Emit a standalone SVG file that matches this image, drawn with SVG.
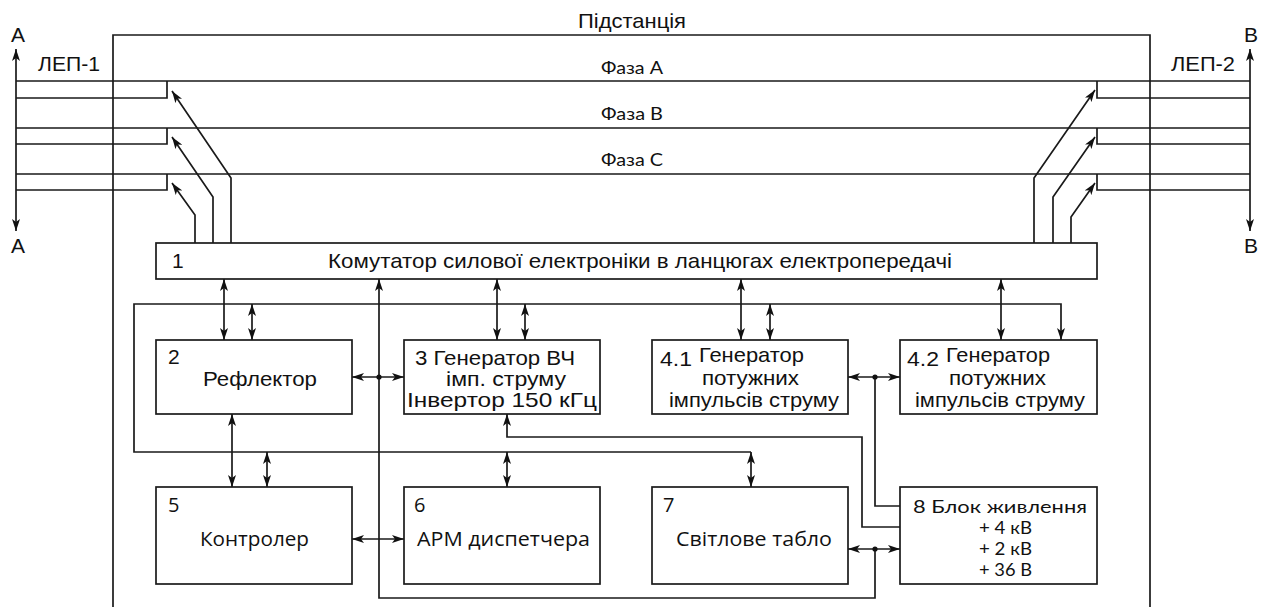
<svg xmlns="http://www.w3.org/2000/svg" width="1268" height="607" viewBox="0 0 1268 607">
  <defs>
    <marker id="arrow" viewBox="0 0 12 8" refX="12" refY="4" markerWidth="12" markerHeight="8" markerUnits="userSpaceOnUse" orient="auto-start-reverse">
      <path d="M0,0 L12,4 L0,8 L3,4 Z" fill="#111"/>
    </marker>
  </defs>
  <style>
    .ln { fill: none; stroke: #1a1a1a; stroke-width: 1.7; }
    .box { fill: #fff; stroke: #1a1a1a; stroke-width: 1.7; }
    .ar { marker-end: url(#arrow); }
    .dbl { marker-start: url(#arrow); marker-end: url(#arrow); }
    .t { font-family: "Liberation Sans", Arial, sans-serif; font-size: 21px; fill: #111; }
    .o { font-family: "Open Sans", "Noto Sans", sans-serif; font-size: 20px; fill: #111; }
    .l { font-family: Lato, "Open Sans", sans-serif; font-size: 18px; fill: #111; }
    .m { text-anchor: middle; }
  </style>
  <rect width="1268" height="607" fill="#fff"/>

  <!-- substation outline (open at the bottom) -->
  <path class="ln" d="M113,607 V35 H1150 V607"/>
  <text class="t m" x="632" y="28" textLength="108" lengthAdjust="spacingAndGlyphs">Підстанція</text>

  <!-- power lines and phase labels -->
  <g id="lines">
    <line class="ln dbl" x1="16" y1="49" x2="16" y2="231"/>
    <line class="ln dbl" x1="1250" y1="49" x2="1250" y2="231"/>
    <path class="ln" d="M16,81 H1250 M16,128 H1250 M16,174 H1250"/>
    <path class="ln" d="M16,98 H167 V81 M16,144 H167 V128 M16,190 H167 V174"/>
    <path class="ln" d="M1250,98 H1097 V81 M1250,144 H1097 V128 M1250,190 H1097 V174"/>
    <text class="t" x="11" y="42" font-size="20">А</text>
    <text class="t" x="11" y="253" font-size="20">А</text>
    <text class="t" x="1244" y="42" font-size="20">В</text>
    <text class="t" x="1244" y="253" font-size="20">В</text>
    <text class="t" x="38" y="71" font-size="20" textLength="62" lengthAdjust="spacingAndGlyphs">ЛЕП-1</text>
    <text class="t" x="1171" y="71" font-size="20" textLength="64" lengthAdjust="spacingAndGlyphs">ЛЕП-2</text>
    <text class="l m" x="632" y="74" textLength="62" lengthAdjust="spacingAndGlyphs">Фаза А</text>
    <text class="l m" x="632" y="120" textLength="62" lengthAdjust="spacingAndGlyphs">Фаза В</text>
    <text class="l m" x="632" y="166" textLength="62" lengthAdjust="spacingAndGlyphs">Фаза С</text>
  </g>

  <!-- connectors -->
  <g id="connectors">
    <!-- switch outputs to the phase breaks -->
    <path class="ln ar" d="M231,243 V178 L172,91"/>
    <path class="ln ar" d="M213,243 V197 L172,137"/>
    <path class="ln ar" d="M195,243 V215 L172,183"/>
    <path class="ln ar" d="M1034,243 V178 L1095,90"/>
    <path class="ln ar" d="M1053,243 V197 L1095,137"/>
    <path class="ln ar" d="M1071,243 V217 L1095,183"/>

    <!-- block 1 to the generators -->
    <line class="ln dbl" x1="224" y1="279" x2="224" y2="340"/>
    <line class="ln dbl" x1="497" y1="279" x2="497" y2="340"/>
    <line class="ln dbl" x1="741" y1="279" x2="741" y2="340"/>
    <line class="ln dbl" x1="1001" y1="279" x2="1001" y2="340"/>

    <!-- control bus loop -->
    <path class="ln ar" d="M751,452 H134 V304 H1061 V340"/>
    <line class="ln dbl" x1="252" y1="304" x2="252" y2="340"/>
    <line class="ln dbl" x1="525" y1="304" x2="525" y2="340"/>
    <line class="ln dbl" x1="770" y1="304" x2="770" y2="340"/>
    <line class="ln dbl" x1="267" y1="452" x2="267" y2="487"/>
    <line class="ln dbl" x1="507" y1="452" x2="507" y2="487"/>
    <line class="ln dbl" x1="751" y1="452" x2="751" y2="487"/>

    <!-- reflector to controller -->
    <line class="ln dbl" x1="232" y1="414" x2="232" y2="487"/>

    <!-- horizontal links -->
    <line class="ln dbl" x1="352" y1="377" x2="404" y2="377"/>
    <line class="ln dbl" x1="848" y1="377" x2="900" y2="377"/>
    <line class="ln dbl" x1="352" y1="539" x2="404" y2="539"/>
    <line class="ln dbl" x1="848" y1="549" x2="900" y2="549"/>

    <!-- return line to block 1 -->
    <path class="ln ar" d="M875,549 V598 H379 V279"/>
    <!-- power supply feeds -->
    <path class="ln" d="M875,377 V506 H900"/>
    <path class="ln ar" d="M900,527 H862 V437 H507 V414"/>

    <circle cx="379" cy="377" r="2.6" fill="#111"/>
    <circle cx="875" cy="377" r="2.6" fill="#111"/>
    <circle cx="875" cy="549" r="2.6" fill="#111"/>
  </g>

  <g id="n1">
    <rect class="box" x="156" y="243" width="941" height="36"/>
    <text class="t" x="172" y="268">1</text>
    <text class="t" x="328" y="268" textLength="624" lengthAdjust="spacingAndGlyphs">Комутатор силової електроніки в ланцюгах електропередачі</text>
  </g>

  <g id="n2">
    <rect class="box" x="156" y="340" width="196" height="74"/>
    <text class="t" x="168" y="364">2</text>
    <text class="t" x="203" y="386" textLength="114" lengthAdjust="spacingAndGlyphs">Рефлектор</text>
  </g>

  <g id="n3">
    <rect class="box" x="404" y="340" width="196" height="74"/>
    <text class="t" x="415" y="365" textLength="160" lengthAdjust="spacingAndGlyphs">3 Генератор ВЧ</text>
    <text class="t" x="446" y="386" textLength="120" lengthAdjust="spacingAndGlyphs">імп. струму</text>
    <text class="t" x="407" y="407" textLength="190" lengthAdjust="spacingAndGlyphs">Інвертор 150 кГц</text>
  </g>

  <g id="n41">
    <rect class="box" x="652" y="340" width="196" height="74"/>
    <text class="t" x="660" y="366" font-size="22" textLength="32" lengthAdjust="spacingAndGlyphs">4.1</text>
    <text class="t" x="699" y="362" font-size="19" textLength="105" lengthAdjust="spacingAndGlyphs">Генератор</text>
    <text class="t" x="702" y="385" font-size="20" textLength="97" lengthAdjust="spacingAndGlyphs">потужних</text>
    <text class="t" x="669" y="407" font-size="20" textLength="170" lengthAdjust="spacingAndGlyphs">імпульсів струму</text>
  </g>

  <g id="n42">
    <rect class="box" x="900" y="340" width="197" height="74"/>
    <text class="t" x="907" y="366" font-size="22" textLength="32" lengthAdjust="spacingAndGlyphs">4.2</text>
    <text class="t" x="946" y="362" font-size="19" textLength="104" lengthAdjust="spacingAndGlyphs">Генератор</text>
    <text class="t" x="949" y="385" font-size="20" textLength="97" lengthAdjust="spacingAndGlyphs">потужних</text>
    <text class="t" x="915" y="407" font-size="20" textLength="170" lengthAdjust="spacingAndGlyphs">імпульсів струму</text>
  </g>

  <g id="n5">
    <rect class="box" x="156" y="487" width="196" height="97"/>
    <text class="o" x="168" y="512">5</text>
    <text class="o" x="200" y="546" textLength="109" lengthAdjust="spacingAndGlyphs">Контролер</text>
  </g>

  <g id="n6">
    <rect class="box" x="404" y="487" width="196" height="97"/>
    <text class="o" x="414" y="512">6</text>
    <text class="o" x="417" y="546" textLength="173" lengthAdjust="spacingAndGlyphs">АРМ диспетчера</text>
  </g>

  <g id="n7">
    <rect class="box" x="652" y="487" width="196" height="97"/>
    <text class="o" x="663" y="512">7</text>
    <text class="o" x="676" y="546" textLength="156" lengthAdjust="spacingAndGlyphs">Світлове табло</text>
  </g>

  <g id="n8">
    <rect class="box" x="900" y="487" width="197" height="97"/>
    <text class="l" x="913" y="513" font-size="20" textLength="174" lengthAdjust="spacingAndGlyphs">8 Блок живлення</text>
    <text class="l" x="979" y="534" font-size="17" textLength="53" lengthAdjust="spacingAndGlyphs">+ 4 кВ</text>
    <text class="l" x="979" y="555" font-size="17" textLength="53" lengthAdjust="spacingAndGlyphs">+ 2 кВ</text>
    <text class="l" x="979" y="576" font-size="17" textLength="53" lengthAdjust="spacingAndGlyphs">+ 36 В</text>
  </g>
</svg>
